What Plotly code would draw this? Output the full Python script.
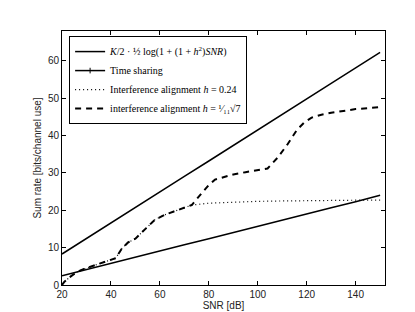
import plotly.graph_objects as go

# ---- data ----
snr_db = [20, 30, 40, 50, 60, 70, 80, 90, 100, 110, 120, 130, 140, 150]
upper_bound = [8.3, 12.5, 16.6, 20.8, 24.9, 29.1, 33.2, 37.4, 41.5, 45.7, 49.8, 54.0, 58.1, 62.3]
time_sharing = [2.5, 4.2, 5.8, 7.5, 9.1, 10.8, 12.4, 14.1, 15.7, 17.4, 19.0, 20.7, 22.3, 24.0]

ia_024_x = [20, 21, 24, 26.5, 29, 35, 40, 42, 44.5, 47, 50, 54, 58, 62, 66, 70, 73,
            80, 90, 100, 110, 120, 130, 140, 150]
ia_024_y = [0, 0.9, 2.5, 3.6, 4.3, 5.6, 6.6, 7.2, 9.8, 11.4, 12.4, 15.0, 17.5, 18.8, 19.8, 20.8, 21.4,
            21.9, 22.2, 22.4, 22.5, 22.6, 22.6, 22.7, 22.7]

ia_sqrt7_x = [20, 21, 24, 26.5, 29, 35, 40, 42, 44.5, 47, 50, 54, 58, 62, 66, 70, 73,
              77, 80, 82.5, 86, 90, 95, 100, 104, 108, 112, 116, 119, 122, 126, 130, 140, 150]
ia_sqrt7_y = [0, 0.9, 2.5, 3.6, 4.3, 5.6, 6.6, 7.2, 9.8, 11.4, 12.4, 15.0, 17.5, 18.8, 19.8, 20.8, 21.4,
              24.5, 26.8, 28.2, 28.9, 29.6, 30.2, 30.7, 31.2, 34.0, 37.5, 41.5, 43.5, 44.8, 45.6, 46.1, 47.1, 47.6]

x_ticks = [20, 40, 60, 80, 100, 120, 140]
y_ticks = [0, 10, 20, 30, 40, 50, 60]

names = [
    "<i>K</i>/2 · ½ log(1 + (1 + <i>h</i><sup>2</sup>)<i>SNR</i>)",
    "Time sharing",
    "Interference alignment <i>h</i> = 0.24",
    "interference alignment <i>h</i> = ¹⁄₁₁√7",
]

fig = go.Figure()
fig.add_trace(go.Scatter(x=snr_db, y=upper_bound, mode="lines", name=names[0],
                         line=dict(color="black", width=1.5)))
# time sharing line (legend entry drawn by a legend-only twin with a tick marker)
fig.add_trace(go.Scatter(x=snr_db, y=time_sharing, mode="lines", name=names[1],
                         showlegend=False, legendgroup="ts",
                         line=dict(color="black", width=1.5)))
fig.add_trace(go.Scatter(x=[None], y=[None], mode="lines+markers", name=names[1],
                         legendgroup="ts",
                         line=dict(color="black", width=1.5),
                         marker=dict(symbol="line-ns", size=4, line=dict(color="black", width=1))))
fig.add_trace(go.Scatter(x=ia_024_x, y=ia_024_y, mode="lines", name=names[2],
                         line=dict(color="black", width=1.2, dash="1px,3px")))
fig.add_trace(go.Scatter(x=ia_sqrt7_x, y=ia_sqrt7_y, mode="lines", name=names[3],
                         line=dict(color="black", width=2, dash="6px,5px")))

axis_common = dict(
    showline=True, linecolor="black", linewidth=1, mirror="ticks",
    ticks="inside", ticklen=4, tickcolor="black",
    showgrid=False, zeroline=False,
    tickfont=dict(family="Liberation Sans, Arial", size=10, color="#222"),
)

fig.update_layout(
    width=415, height=312,
    margin=dict(l=54, r=38, t=23, b=35),
    paper_bgcolor="white", plot_bgcolor="white",
    xaxis=dict(range=[20, 152], tickvals=x_ticks,
               title=dict(text="SNR [dB]", standoff=2,
                          font=dict(family="Liberation Sans, Arial", size=10, color="#222")),
               **axis_common),
    yaxis=dict(range=[0, 68], tickvals=y_ticks,
               title=dict(text="Sum rate [bits/channel use]", standoff=4,
                          font=dict(family="Liberation Sans, Arial", size=10, color="#222")),
               **axis_common),
    legend=dict(x=0.022, y=0.98, xanchor="left", yanchor="top",
                bgcolor="white", bordercolor="black", borderwidth=1,
                font=dict(family="Liberation Serif, DejaVu Serif", size=10, color="black"),
                itemwidth=30, tracegroupgap=0),
    showlegend=True,
)

fig.write_html("out.html")
